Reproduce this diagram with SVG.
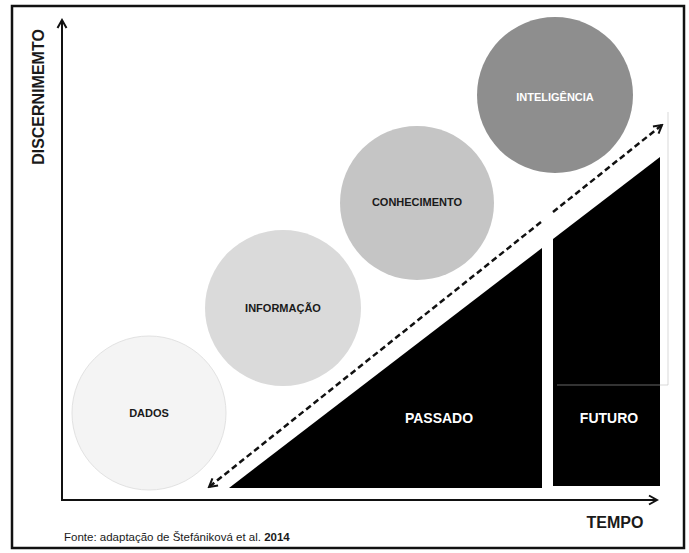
<svg xmlns="http://www.w3.org/2000/svg" width="689" height="553" viewBox="0 0 689 553">
  <style>
    .lbl { font-family: "Liberation Sans", Arial, sans-serif; font-weight: bold; text-anchor: middle; }
    .dark { fill: #1a1a1a; }
    .white { fill: #ffffff; }
    .axis { stroke: #111; stroke-width: 2; fill: none; }
    .dash { stroke: #111; stroke-width: 2.5; fill: none; stroke-dasharray: 6 3.5; }
  </style>
  <defs>
    <marker id="arr" markerUnits="userSpaceOnUse" viewBox="0 0 12 12" refX="10" refY="6" markerWidth="12" markerHeight="12" orient="auto">
      <path d="M2,1.5 L10,6 L2,10.5" fill="none" stroke="#111" stroke-width="2"/>
    </marker>
  </defs>
  <rect x="0" y="0" width="689" height="553" fill="#ffffff"/>
  <rect id="frame" x="12" y="6" width="672" height="542" fill="none" stroke="#111" stroke-width="2.5"/>

  <g id="circle-dados">
    <circle cx="149" cy="413" r="77" fill="#f4f4f4" stroke="#e2e2e2" stroke-width="1"/>
    <text class="lbl dark" x="149" y="417" font-size="11">DADOS</text>
  </g>
  <g id="circle-informacao">
    <circle cx="283" cy="308" r="78" fill="#dadada"/>
    <text class="lbl dark" x="283" y="312" font-size="11">INFORMAÇÃO</text>
  </g>
  <g id="circle-conhecimento">
    <circle cx="417" cy="203" r="77" fill="#c5c5c5"/>
    <text class="lbl dark" x="417" y="206" font-size="11">CONHECIMENTO</text>
  </g>
  <g id="circle-inteligencia">
    <circle cx="555" cy="95" r="78" fill="#8e8e8e"/>
    <text class="lbl white" x="555" y="101" font-size="11">INTELIGÊNCIA</text>
  </g>

  <g id="passado">
    <polygon points="229,488 542,248 542,488" fill="#000"/>
    <text class="lbl white" x="439" y="423" font-size="14">PASSADO</text>
  </g>
  <g id="futuro">
    <polygon points="553,239 660,157 660,486 553,486" fill="#000"/>
    <text class="lbl white" x="609" y="423" font-size="14">FUTURO</text>
  </g>
  <path id="faint-outline" d="M557,385 H668 V112" fill="none" stroke="#bbbbbb" stroke-opacity="0.55" stroke-width="1"/>

  <g id="connectors">
    <line class="axis" x1="62" y1="500" x2="62" y2="20" marker-end="url(#arr)"/>
    <line class="axis" x1="61" y1="500" x2="657" y2="500" marker-end="url(#arr)"/>
    <line class="dash" x1="541" y1="222" x2="209" y2="487" marker-end="url(#arr)"/>
    <line class="dash" x1="553" y1="212" x2="662" y2="125" marker-end="url(#arr)"/>
  </g>

  <text class="lbl dark" x="0" y="0" font-size="16" transform="translate(44,97) rotate(-90)">DISCERNIMEMTO</text>
  <text class="lbl dark" x="615" y="528" font-size="16">TEMPO</text>
  <text x="64" y="541" font-family="'Liberation Sans', Arial, sans-serif" font-size="11.5" fill="#1a1a1a">Fonte: adaptação de Štefániková et al. <tspan font-weight="bold">2014</tspan></text>
</svg>
